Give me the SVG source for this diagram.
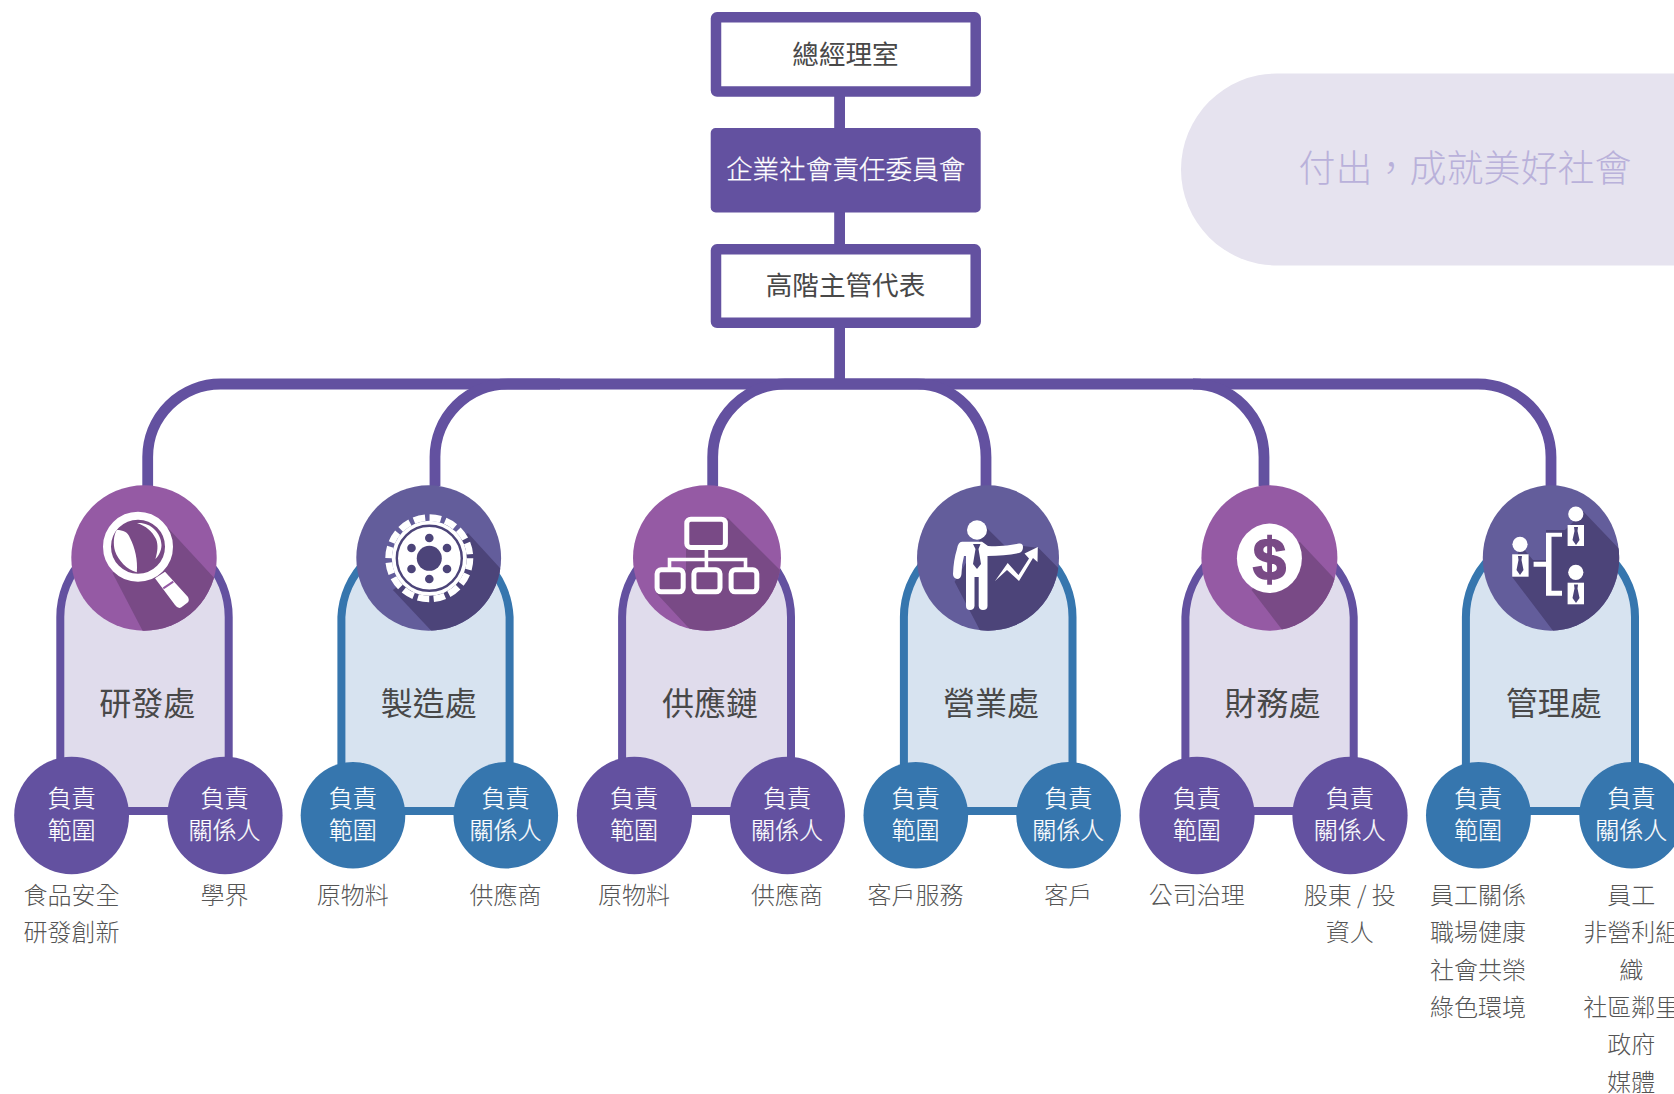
<svg xmlns="http://www.w3.org/2000/svg" width="1674" height="1094" viewBox="0 0 1674 1094">
<style>
text{font-family:"Noto Sans CJK TC","Noto Sans CJK SC",sans-serif;text-anchor:middle}
.t{font-size:26.6px;fill:#484848}
.tw{font-size:26.6px;fill:#fff;font-weight:300;stroke:#fff;stroke-width:.25}
.d{font-size:32px;fill:#484848}
.c{font-size:24px;fill:#fff;font-weight:300;stroke:#fff;stroke-width:.2}
.l{font-size:24px;fill:#555;font-weight:300}
.b{fill:none;stroke:#6351a0;stroke-width:10.8}
.bp{fill:#e0dcec;stroke:#6351a0;stroke-width:8}
.bb{fill:#d7e3f0;stroke:#3676ae;stroke-width:8}
.p{fill:#6351a0}.q{fill:#3676ae}
.ip{fill:#955aa4}.ii{fill:#635d9b}
.sp{fill:#794a86}.si{fill:#4c4479}
.w{fill:#fff}
</style>
<defs>
<clipPath id="c1"><ellipse cx="144" cy="558" rx="72.7" ry="72.7"/></clipPath>
<clipPath id="c2"><ellipse cx="428.7" cy="558" rx="72.4" ry="72.7"/></clipPath>
<clipPath id="c3"><ellipse cx="707" cy="558" rx="74" ry="72.7"/></clipPath>
<clipPath id="c4"><ellipse cx="988" cy="558" rx="71" ry="72.7"/></clipPath>
<clipPath id="c5"><ellipse cx="1269.4" cy="558" rx="68" ry="72.7"/></clipPath>
<clipPath id="c6"><ellipse cx="1551" cy="558" rx="68.2" ry="72.7"/></clipPath>
</defs>
<g id="slogan"><path d="M1277 73.500H1674V265.500H1277A96 96 0 0 1 1277 73.500Z" fill="#e6e3ef"/><text x="1465" y="182" font-size="37" fill="#b9b1da" style="font-weight:300">付出&#xFF0C;成就美好社會</text></g>
<g id="connectors">
<path class="b" d="M839.6 96V128M839.6 212V244M839.6 328V384"/>
<path class="b" d="M147.7 486V457A73 73 0 0 1 221 384H1478A73 73 0 0 1 1551 457V486"/>
<path class="b" d="M435 486V457A73 73 0 0 1 508 384H560M712.7 486V457A73 73 0 0 1 785 384H917A69 73 0 0 1 986 457V486M1193 384A71 73 0 0 1 1264 457V486"/>
</g>
<g id="top-1"><rect x="716" y="17.3" width="259.7" height="74.3" rx="1" fill="#fff" stroke="#6351a0" stroke-width="10.5" stroke-linejoin="round"/><text class="t" x="845.5" y="64">總經理室</text></g>
<g id="top-2"><rect x="710.7" y="128" width="270" height="84.500" rx="5" class="p"/><text class="tw" x="845.7" y="179">企業社會責任委員會</text></g>
<g id="top-3"><rect x="716" y="249.3" width="259.7" height="73.5" rx="1" fill="#fff" stroke="#6351a0" stroke-width="10.5" stroke-linejoin="round"/><text class="t" x="845.5" y="295">高階主管代表</text></g>

<g id="dept-1">
<path class="bp" d="M60.3 811V617A84.2 84 0 0 1 228.7 617V811Z"/>
<text class="d" x="147.3" y="715">研發處</text>
<ellipse class="ip" cx="144" cy="558" rx="72.7" ry="72.7"/>
<polygon class="sp" clip-path="url(#c1)" points="168,528 230,595 230,660 150,645 112.5,573"/>
<ellipse class="sp" cx="138" cy="546.7" rx="31" ry="31"/>
<ellipse cx="138" cy="546.7" rx="31" ry="31" fill="none" stroke="#fff" stroke-width="8"/>
<path class="w" d="M116.8 530C123 530 128 532 130 538C135 548 138 560 136.8 572.3C127 570 118 560 115 551C113 544 113.5 535 116.8 530Z"/>
<path class="w" d="M137 523C150 522 161 532 161.5 545C161.5 551 158 557 155.4 559C157.5 552 158.5 545 156 539C152 531 146 526 137 523Z"/>
<path d="M155 578.300L165 571.700L188 597Q190 601 187 603L181 607.500Q178 609 175 605Z" class="w"/>
<path d="M163.300 588.300L173.300 581.700" stroke="#955aa4" stroke-width="2" fill="none"/>
</g>

<g id="dept-2">
<path class="bb" d="M341.4 811V617A84.2 84 0 0 1 509.6 617V811Z"/>
<text class="d" x="428.7" y="715">製造處</text>
<ellipse class="ii" cx="428.7" cy="558" rx="72.4" ry="72.7"/>
<polygon class="si" clip-path="url(#c2)" points="467.9,533 520,590 520,660 440,640 392.9,590"/>
<circle class="w" cx="429.3" cy="558.3" r="37.500"/>
<circle cx="429.3" cy="558.3" r="40.700" fill="none" stroke="#fff" stroke-width="6.600" stroke-dasharray="11.500 4.480"/>
<circle cx="429.3" cy="558.3" r="32.5" fill="none" stroke="#4c4479" stroke-width="2.4"/>
<g class="si"><circle cx="429.3" cy="558.3" r="12.5"/><circle cx="429.3" cy="538" r="4.3"/><circle cx="429.3" cy="579" r="4.3"/><circle cx="411.5" cy="548" r="4.3"/><circle cx="447" cy="548" r="4.3"/><circle cx="411.5" cy="569" r="4.3"/><circle cx="447" cy="569" r="4.3"/></g>
</g>

<g id="dept-3">
<path class="bp" d="M622.1 811V617A84.4 84 0 0 1 791 617V811Z"/>
<text class="d" x="710" y="715">供應鏈</text>
<ellipse class="ip" cx="707" cy="558" rx="74" ry="72.7"/>
<polygon class="sp" clip-path="url(#c3)" points="727.9,518 795,585 795,660 700,640 656.4,593.3 658,570 686,570 686,548"/>
<g fill="#794a86" stroke="#fff" stroke-width="5"><rect x="686.8" y="519.2" width="38.6" height="28.3" rx="4"/><rect x="657.1" y="569.8" width="26.1" height="22" rx="4"/><rect x="693.9" y="569.8" width="26.1" height="22" rx="4"/><rect x="731.1" y="569.8" width="25.7" height="22" rx="4"/></g>
<path d="M706.4 550V568M669.5 568V559.5H745.5V568" fill="none" stroke="#fff" stroke-width="3.6"/>
</g>

<g id="dept-4">
<path class="bb" d="M903.9 811V617A84.2 84 0 0 1 1072.5 617V811Z"/>
<text class="d" x="991" y="715">營業處</text>
<ellipse class="ii" cx="988" cy="558" rx="71" ry="72.7"/>
<polygon class="si" clip-path="url(#c4)" points="986.8,528 1005,546 1023,546 1038.6,548 1065,575 1065,640 985,640 954.6,581.7"/>
<ellipse class="w" cx="977" cy="530" rx="10" ry="9.7"/>
<path class="w" d="M962 541.700H982L988 546Q1005 547 1019 543.500Q1023 543 1023 547Q1023 552 1019 553Q1005 556 987.500 556V606Q987.500 610 983 610Q979 610 978.700 606V577H974.500V606Q974 610 970 610Q966 610 966 606V556H964Q961.500 565 961.500 574Q961 579 957 579Q953 578 953 574Q953.500 560 957 549Q958 542 962 541.700Z"/>
<path class="si" d="M973 544H980.500L978.500 549L981 564L977 569L973 564L975.500 549Z"/>
<path class="w" d="M995 581L1007.700 563L1018.500 575L1029 558.500L1024.500 553.500L1037.800 547L1037.500 562L1033 558L1019 581L1007 570Z"/>
</g>

<g id="dept-5">
<path class="bp" d="M1185.4 811V617A84.2 84 0 0 1 1353.7 617V811Z"/>
<text class="d" x="1272.4" y="715">財務處</text>
<ellipse class="ip" cx="1269.4" cy="558" rx="68" ry="72.7"/>
<polygon class="sp" clip-path="url(#c5)" points="1299.7,541.7 1345,590 1345,650 1290,640 1251.5,590"/>
<ellipse class="w" cx="1269.4" cy="558.3" rx="32.5" ry="34.7"/>
<text x="1269.5" y="580" font-size="60" stroke="#794a86" stroke-width="1.6" style="font-family:'Liberation Sans',sans-serif;font-weight:700" fill="#794a86">$</text>
</g>

<g id="dept-6">
<path class="bb" d="M1465.9 811V617A84.5 84 0 0 1 1635 617V811Z"/>
<text class="d" x="1553.7" y="715">管理處</text>
<ellipse class="ii" cx="1551" cy="558" rx="68.2" ry="72.7"/>
<polygon class="si" clip-path="url(#c6)" points="1583.6,511.7 1625,555 1625,650 1560,640 1512,576.7 1520,545 1533,560 1546,560 1546,530 1565,530"/>
<g class="w">
<circle cx="1520" cy="544.3" r="7.6"/><rect x="1512.2" y="554.3" width="16.4" height="22.4"/>
<circle cx="1575.8" cy="514" r="7.6"/><rect x="1567.6" y="525" width="16.4" height="21"/>
<circle cx="1575.8" cy="572.3" r="7.6"/><rect x="1567.6" y="582.7" width="16.4" height="21.6"/>
<path d="M1546 532.7H1562V536.7H1551.5V590.7H1562V595.7H1546V566.7H1533.6V561.7H1546Z"/>
</g>
<g class="si"><path d="M1518 556H1522L1521.5 560L1523.5 570L1520 575L1516.5 570L1518.5 560Z"/><path d="M1574 527H1578L1577.5 531L1579.5 540L1576 545L1572.5 540L1574.5 531Z"/><path d="M1574 584.5H1578L1577.5 588.500L1579.500 598L1576 603L1572.500 598L1574.500 588.500Z"/></g>
</g>

<g id="bars">
<path d="M71 811H225" stroke="#6351a0" stroke-width="8"/>
<path d="M353 811H506" stroke="#3676ae" stroke-width="8"/>
<path d="M634 811H788" stroke="#6351a0" stroke-width="8"/>
<path d="M916 811H1069" stroke="#3676ae" stroke-width="8"/>
<path d="M1197 811H1350" stroke="#6351a0" stroke-width="8"/>
<path d="M1478 811H1632" stroke="#3676ae" stroke-width="8"/>
</g>

<g id="r1a"><ellipse class="p" cx="71.6" cy="815.5" rx="57.4" ry="58.8"/><text class="c" x="71.4" y="807">負責</text><text class="c" x="71.4" y="839">範圍</text><text class="l" x="71.4" y="903.500">食品安全</text><text class="l" x="71.4" y="941">研發創新</text></g>
<g id="r1b"><ellipse class="p" cx="225" cy="815.5" rx="57.6" ry="58.8"/><text class="c" x="224.500" y="807">負責</text><text class="c" x="224.500" y="839">關係人</text><text class="l" x="224.500" y="903.500">學界</text></g>
<g id="r2a"><ellipse class="q" cx="353" cy="815.3" rx="52.3" ry="53.3"/><text class="c" x="352.700" y="807">負責</text><text class="c" x="352.700" y="839">範圍</text><text class="l" x="352.700" y="903.500">原物料</text></g>
<g id="r2b"><ellipse class="q" cx="505.800" cy="815.3" rx="52.3" ry="53.3"/><text class="c" x="505.500" y="807">負責</text><text class="c" x="505.500" y="839">關係人</text><text class="l" x="505.500" y="903.500">供應商</text></g>
<g id="r3a"><ellipse class="p" cx="634.4" cy="815.5" rx="57.6" ry="58.8"/><text class="c" x="634.100" y="807">負責</text><text class="c" x="634.100" y="839">範圍</text><text class="l" x="634.100" y="903.500">原物料</text></g>
<g id="r3b"><ellipse class="p" cx="787.400" cy="815.5" rx="57.6" ry="58.8"/><text class="c" x="787" y="807">負責</text><text class="c" x="787" y="839">關係人</text><text class="l" x="787" y="903.500">供應商</text></g>
<g id="r4a"><ellipse class="q" cx="915.800" cy="815.3" rx="52.3" ry="53.3"/><text class="c" x="915.500" y="807">負責</text><text class="c" x="915.500" y="839">範圍</text><text class="l" x="915.500" y="903.500">客戶服務</text></g>
<g id="r4b"><ellipse class="q" cx="1068.600" cy="815.3" rx="52.3" ry="53.3"/><text class="c" x="1068.300" y="807">負責</text><text class="c" x="1068.300" y="839">關係人</text><text class="l" x="1068.300" y="903.500">客戶</text></g>
<g id="r5a"><ellipse class="p" cx="1197" cy="815.5" rx="57.6" ry="58.8"/><text class="c" x="1196.700" y="807">負責</text><text class="c" x="1196.700" y="839">範圍</text><text class="l" x="1196.700" y="903.500">公司治理</text></g>
<g id="r5b"><ellipse class="p" cx="1350" cy="815.5" rx="57.6" ry="58.8"/><text class="c" x="1349.700" y="807">負責</text><text class="c" x="1349.700" y="839">關係人</text><text class="l" x="1349.700" y="903.500">股東 / 投</text><text class="l" x="1349.700" y="941">資人</text></g>
<g id="r6a"><ellipse class="q" cx="1478.4" cy="815.3" rx="52.4" ry="53.3"/><text class="c" x="1478" y="807">負責</text><text class="c" x="1478" y="839">範圍</text><text class="l" x="1478" y="903.500">員工關係</text><text class="l" x="1478" y="941">職場健康</text><text class="l" x="1478" y="978.500">社會共榮</text><text class="l" x="1478" y="1016">綠色環境</text></g>
<g id="r6b"><ellipse class="q" cx="1631.700" cy="815.3" rx="52.4" ry="53.3"/><text class="c" x="1631.200" y="807">負責</text><text class="c" x="1631.200" y="839">關係人</text><text class="l" x="1631.200" y="903.500">員工</text><text class="l" x="1631.200" y="941">非營利組</text><text class="l" x="1631.200" y="978.500">織</text><text class="l" x="1631.200" y="1016">社區鄰里</text><text class="l" x="1631.200" y="1052.500">政府</text><text class="l" x="1631.200" y="1090.500">媒體</text></g>
</svg>
